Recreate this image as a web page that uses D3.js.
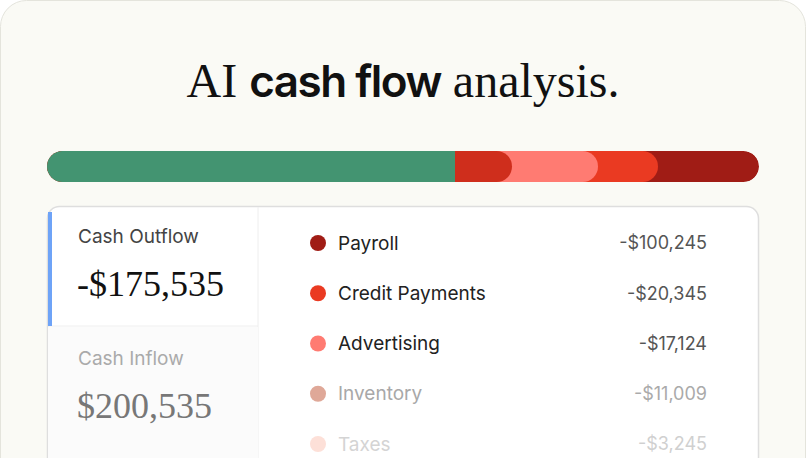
<!DOCTYPE html>
<html><head><meta charset="utf-8">
<script src="https://cdn.jsdelivr.net/npm/d3@7"></script>
<style>body{margin:0;background:#fff}</style>
</head><body>
<script>
const barNames = ["Inflow", "Credit Payments", "Advertising", "Credit Payments", "Payroll"];
const barShares = [408, 57, 86, 60, 101];
const barColors = ["#439471", "#cf2e1c", "#ff7b72", "#ea3a22", "#a01c15"];

const categories = ["Payroll", "Credit Payments", "Advertising", "Inventory", "Taxes"];
const amounts = ["-$100,245", "-$20,345", "-$17,124", "-$11,009", "-$3,245"];
const dotColors = ["#a01c15", "#ea3a22", "#ff7b72", "#dfa898", "#fde0d8"];
const textColors = ["#222", "#222", "#222", "#a8a8a8", "#d4d4d4"];
const amountColors = ["#555", "#555", "#555", "#aaa", "#d0d0d0"];

const width = 806, height = 458;
const svg = d3.select("body").append("svg").attr("width", width).attr("height", height);

svg.append("rect").attr("x", 0.5).attr("y", 0.5).attr("width", width - 1).attr("height", height + 30)
    .attr("rx", 26).attr("fill", "#fafaf5").attr("stroke", "#e4e4dc");

const title = svg.append("text").attr("x", 403).attr("y", 97).attr("text-anchor", "middle")
    .attr("fill", "#111").style("font-size", "48px");
title.append("tspan").style("font-family", "'Liberation Serif', serif").text("AI ");
title.append("tspan").style("font-family", "Inter, sans-serif").style("font-weight", 600)
    .style("letter-spacing", "-1.5px").style("font-size", "44px").text("cash flow");
title.append("tspan").style("font-family", "'Liberation Serif', serif").text(" analysis.");

// stacked bar with overlapping rounded caps
const ends = d3.cumsum(barShares);
const x = d3.scaleLinear().domain([0, ends[ends.length - 1]]).range([47, 759]);
const barY = 151, barH = 31;
svg.append("clipPath").attr("id", "barclip").append("rect")
    .attr("x", x(0)).attr("y", barY).attr("width", x(ends[ends.length - 1]) - x(0)).attr("height", barH).attr("rx", 15.5);
const bar = svg.append("g").attr("clip-path", "url(#barclip)");
const idx = d3.range(barShares.length).reverse();
bar.selectAll("rect.seg").data(idx.filter(i => i > 0)).join("rect").attr("class", "seg")
    .attr("x", x(0)).attr("y", barY).attr("height", barH)
    .attr("width", i => x(ends[i]) - x(0)).attr("rx", 15.5).attr("fill", i => barColors[i]);
bar.append("rect").attr("x", x(0) - 20).attr("y", barY).attr("height", barH)
    .attr("width", x(ends[0]) - x(0) + 20).attr("fill", barColors[0]);

// card
svg.append("rect").attr("x", 47.5).attr("y", 206.5).attr("width", 711).attr("height", 280)
    .attr("rx", 12).attr("fill", "#fff").attr("stroke", "#dedede").attr("stroke-width", 1.5);
svg.append("line").attr("x1", 258).attr("x2", 258).attr("y1", 207).attr("y2", 458).attr("stroke", "#eee");
svg.append("line").attr("x1", 48).attr("x2", 258).attr("y1", 326).attr("y2", 326).attr("stroke", "#eee");
svg.append("rect").attr("x", 48).attr("y", 212).attr("width", 4).attr("height", 114).attr("fill", "#6ea3f7");
svg.append("rect").attr("x", 48).attr("y", 327).attr("width", 210).attr("height", 131).attr("fill", "#fbfbfb");

const sans = "Inter, 'Noto Sans', sans-serif", serif = "'Liberation Serif', serif";
const left = [["Cash Outflow", "-$175,535", "#444", "#111", 243], ["Cash Inflow", "$200,535", "#aaa", "#777", 365]];
left.forEach(([lab, val, c1, c2, y]) => {
    svg.append("text").attr("x", 78).attr("y", y).attr("fill", c1).style("font-family", sans).style("font-size", "19px").text(lab);
    svg.append("text").attr("x", 77).attr("y", y + 53).attr("fill", c2).style("font-family", serif).style("font-size", "36px").text(val);
});

const yRow = d3.scalePoint().domain(categories).range([243, 444]);
const rows = svg.selectAll("g.row").data(categories).join("g").attr("class", "row")
    .attr("transform", d => `translate(0,${yRow(d)})`);
rows.append("circle").attr("cx", 318).attr("cy", 0).attr("r", 8).attr("fill", (d, i) => dotColors[i]);
rows.append("text").attr("x", 338).attr("dy", "0.35em").attr("fill", (d, i) => textColors[i])
    .style("font-family", sans).style("font-size", "19px").text(d => d);
rows.append("text").attr("x", 707).attr("dy", "0.35em").attr("text-anchor", "end").attr("fill", (d, i) => amountColors[i])
    .style("font-family", sans).style("font-size", "18px").text((d, i) => amounts[i]);
</script>
</body></html>
